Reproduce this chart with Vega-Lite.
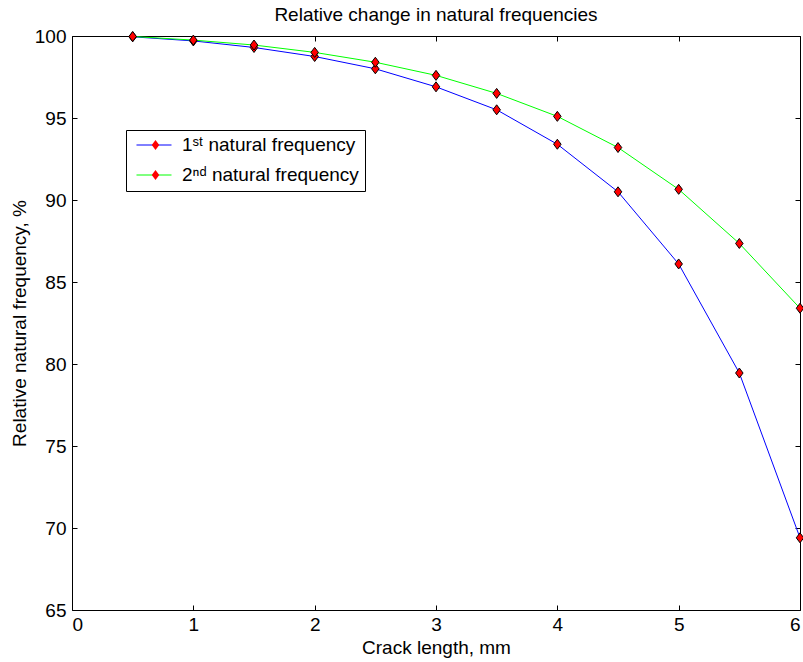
{
  "$schema": "https://vega.github.io/schema/vega-lite/v6.json",
  "width": 728,
  "height": 574,
  "autosize": {"type": "none"},
  "padding": {"left": 72, "top": 36, "right": 3, "bottom": 52},
  "background": "white",
  "config": {
    "view": {"stroke": "black", "strokeWidth": 1},
    "font": "Liberation Sans",
    "axis": {
      "domain": false,
      "grid": false,
      "tickColor": "black",
      "tickWidth": 1,
      "tickSize": -5,
      "labelFont": "Liberation Sans",
      "labelFontSize": 19,
      "labelColor": "black",
      "titleFont": "Liberation Sans",
      "titleFontSize": 19,
      "titleFontWeight": "normal",
      "titleColor": "black"
    }
  },
  "title": {
    "text": "Relative change in natural frequencies",
    "font": "Liberation Sans",
    "fontSize": 19,
    "fontWeight": "normal",
    "color": "black",
    "offset": 2
  },
  "data": {
    "values": [
      {"length": 0.5, "freq": 99.95, "series": "1ˢᵗ natural frequency"},
      {"length": 1.0, "freq": 99.7, "series": "1ˢᵗ natural frequency"},
      {"length": 1.5, "freq": 99.3, "series": "1ˢᵗ natural frequency"},
      {"length": 2.0, "freq": 98.75, "series": "1ˢᵗ natural frequency"},
      {"length": 2.5, "freq": 98.0, "series": "1ˢᵗ natural frequency"},
      {"length": 3.0, "freq": 96.9, "series": "1ˢᵗ natural frequency"},
      {"length": 3.5, "freq": 95.5, "series": "1ˢᵗ natural frequency"},
      {"length": 4.0, "freq": 93.4, "series": "1ˢᵗ natural frequency"},
      {"length": 4.5, "freq": 90.5, "series": "1ˢᵗ natural frequency"},
      {"length": 5.0, "freq": 86.1, "series": "1ˢᵗ natural frequency"},
      {"length": 5.5, "freq": 79.45, "series": "1ˢᵗ natural frequency"},
      {"length": 6.0, "freq": 69.4, "series": "1ˢᵗ natural frequency"},
      {"length": 0.5, "freq": 99.97, "series": "2ⁿᵈ natural frequency"},
      {"length": 1.0, "freq": 99.75, "series": "2ⁿᵈ natural frequency"},
      {"length": 1.5, "freq": 99.45, "series": "2ⁿᵈ natural frequency"},
      {"length": 2.0, "freq": 99.0, "series": "2ⁿᵈ natural frequency"},
      {"length": 2.5, "freq": 98.4, "series": "2ⁿᵈ natural frequency"},
      {"length": 3.0, "freq": 97.6, "series": "2ⁿᵈ natural frequency"},
      {"length": 3.5, "freq": 96.5, "series": "2ⁿᵈ natural frequency"},
      {"length": 4.0, "freq": 95.1, "series": "2ⁿᵈ natural frequency"},
      {"length": 4.5, "freq": 93.2, "series": "2ⁿᵈ natural frequency"},
      {"length": 5.0, "freq": 90.65, "series": "2ⁿᵈ natural frequency"},
      {"length": 5.5, "freq": 87.35, "series": "2ⁿᵈ natural frequency"},
      {"length": 6.0, "freq": 83.4, "series": "2ⁿᵈ natural frequency"}
    ]
  },
  "resolve": {"axis": {"x": "independent", "y": "independent"}},
  "layer": [
    {
      "mark": {"type": "line", "strokeWidth": 1},
      "encoding": {
        "x": {
          "field": "length", "type": "quantitative",
          "scale": {"domain": [0, 6], "nice": false, "zero": false},
          "axis": {"orient": "bottom", "values": [0, 1, 2, 3, 4, 5, 6], "title": "Crack length, mm", "labelPadding": 10, "titlePadding": 4}
        },
        "y": {
          "field": "freq", "type": "quantitative",
          "scale": {"domain": [65, 100], "nice": false, "zero": false},
          "axis": {"orient": "left", "values": [65, 70, 75, 80, 85, 90, 95, 100], "title": "Relative natural frequency, %", "labelPadding": 11, "titlePadding": 5}
        },
        "color": {
          "field": "series", "type": "nominal",
          "scale": {"domain": ["1ˢᵗ natural frequency", "2ⁿᵈ natural frequency"], "range": ["#0000ff", "#00ff00"]},
          "legend": {
            "orient": "none", "legendX": 54, "legendY": 94,
            "title": null,
            "symbolType": "M-0.814,0H0.814", "symbolSize": 1849, "symbolStrokeWidth": 1,
            "clipHeight": 18,
            "labelFont": "Liberation Sans", "labelFontSize": 19, "labelColor": "black", "labelLimit": 400,
            "labelExpr": "datum.label + '\u00a0\u00a0\u00a0'",
            "labelOffset": 6, "rowPadding": 11, "padding": 6,
            "strokeColor": "black", "fillColor": "white", "zindex": 1
          }
        }
      }
    },
    {
      "mark": {"type": "point", "filled": true, "fill": "#ff0000", "stroke": "black", "strokeWidth": 1, "size": 100, "opacity": 1},
      "encoding": {
        "x": {
          "field": "length", "type": "quantitative",
          "axis": {"orient": "top", "values": [0, 1, 2, 3, 4, 5, 6], "labels": false, "title": null}
        },
        "y": {
          "field": "freq", "type": "quantitative",
          "axis": {"orient": "right", "values": [65, 70, 75, 80, 85, 90, 95, 100], "labels": false, "title": null}
        },
        "shape": {
          "field": "series", "type": "nominal",
          "scale": {"range": ["M0,-1L0.75,0L0,1L-0.75,0Z", "M0,-1L0.75,0L0,1L-0.75,0Z"]},
          "legend": {
            "orient": "none", "legendX": 68, "legendY": 94,
            "title": null,
            "symbolSize": 100, "symbolFillColor": "#ff0000", "symbolStrokeColor": "black", "symbolStrokeWidth": 1,
            "clipHeight": 18,
            "labelFont": "Liberation Sans", "labelFontSize": 19, "labelExpr": "''",
            "labelOffset": 6, "rowPadding": 11, "padding": 6, "zindex": 2
          }
        }
      }
    }
  ]
}
